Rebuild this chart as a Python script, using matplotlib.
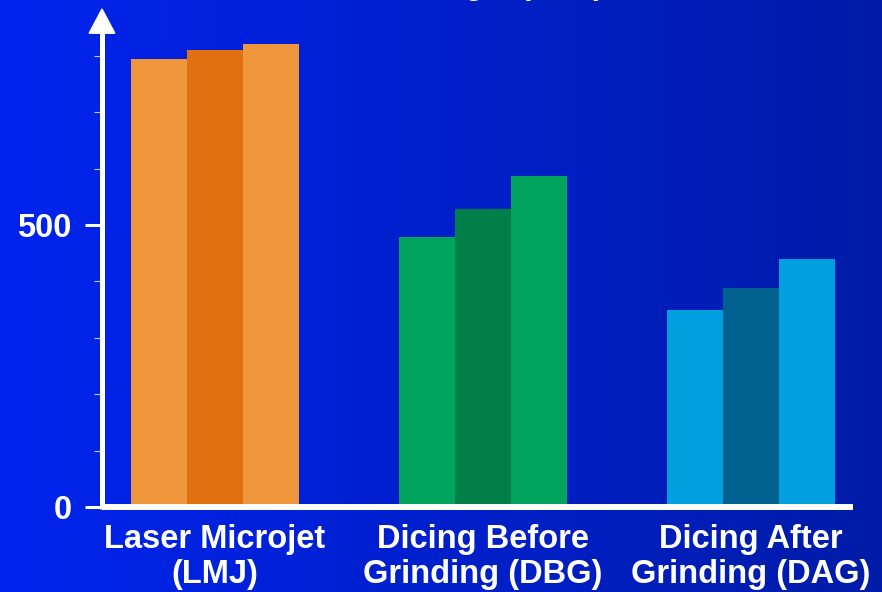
"""
Die strength by dicing method - grouped bars on a blue slide background.
"""

import numpy as np
import matplotlib.pyplot as plt
from matplotlib.colors import LinearSegmentedColormap

plt.rcParams['font.family'] = ['Liberation Sans', 'DejaVu Sans']

# ── Data ─────────────────────────────────────────────────────
methods = ['Laser Microjet\n(LMJ)', 'Dicing Before\nGrinding (DBG)',
           'Dicing After\nGrinding (DAG)']
run_1 = [794, 479, 349]
run_2 = [810, 528, 388]
run_3 = [821, 587, 440]
ytick_vals = [0, 500]
minor_vals = [100, 200, 300, 400, 600, 700, 800]

light = ['#F0963C', '#00A45C', '#00A0E0']
dark = ['#E07010', '#008048', '#006090']

# ── Figure ───────────────────────────────────────────────────
fig = plt.figure(figsize=(8.82, 5.92), dpi=100)

# background gradient (bright blue left -> deeper blue right)
bg = fig.add_axes([0, 0, 1, 1], zorder=-10)
cmap = LinearSegmentedColormap.from_list('bg', ['#0024EE', '#0020CC', '#001CA8'])
grad = np.linspace(0, 1, 256).reshape(1, -1)
bg.imshow(grad, aspect='auto', cmap=cmap, extent=[0, 1, 0, 1])
bg.set_axis_off()

ax = fig.add_axes([102 / 882, 85 / 592, (853 - 102) / 882, (507 - 9) / 592])
ax.patch.set_alpha(0)

x = np.arange(len(methods))
w = 0.21
ax.bar(x - w, run_1, w, color=light, zorder=2)
ax.bar(x, run_2, w, color=dark, zorder=2)
ax.bar(x + w, run_3, w, color=light, zorder=2)

ax.set_xlim(-0.4216, 2.3806)
ax.set_ylim(0, 883)

for s in ['top', 'right', 'left', 'bottom']:
    ax.spines[s].set_visible(False)

# white axes with an arrow on the y axis
ax.plot([-0.4216, 2.3806], [0, 0], color='white', lw=4.3,
        solid_capstyle='butt', zorder=5, clip_on=False)
ax.plot([-0.4216, -0.4216], [-4, 845], color='white', lw=3.6,
        solid_capstyle='butt', zorder=5, clip_on=False)
ax.fill([-0.4216 - 0.048, -0.4216 + 0.048, -0.4216], [840, 840, 883],
        color='white', zorder=5, clip_on=False)

ax.set_yticks(ytick_vals)
ax.set_yticklabels([str(v) for v in ytick_vals], fontsize=23.5,
                   fontweight='bold', color='white')
ax.set_yticks(minor_vals, minor=True)
ax.tick_params(axis='y', which='major', length=12, width=2.2, color='white', pad=10)
ax.tick_params(axis='y', which='minor', length=6, width=0.8,
               color='#C8D0FF')

ax.set_xticks(x)
ax.set_xticklabels(methods, fontsize=23.5, fontweight='bold', color='white',
                   linespacing=1.2)
ax.tick_params(axis='x', length=0, pad=12)

# title sits above the slide edge; only descenders peek in
fig.text(0.53, 1.0105, 'Die Strength (MPa)', ha='center', va='baseline',
         fontsize=22, fontweight='bold', color='white')

fig.savefig('out.png', dpi=100)
